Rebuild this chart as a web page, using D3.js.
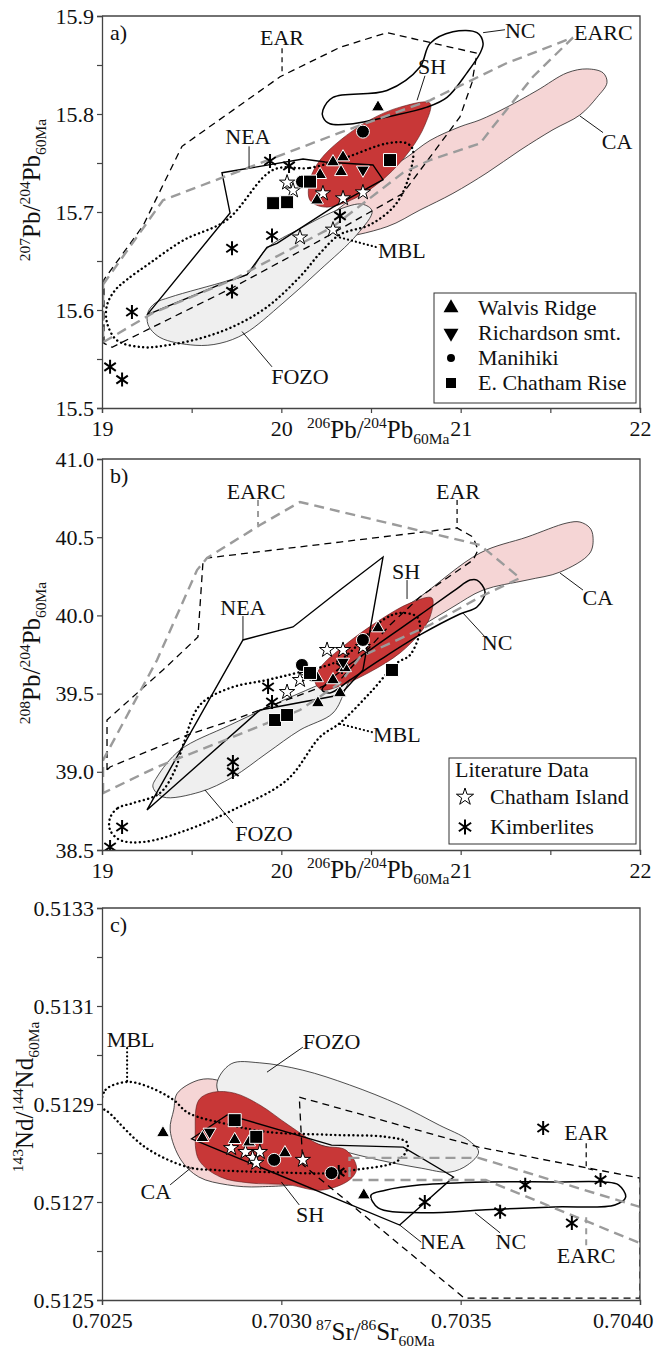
<!DOCTYPE html>
<html>
<head>
<meta charset="utf-8">
<script src="https://cdn.jsdelivr.net/npm/d3@7"></script>
<style>
  body { margin: 0; background: #fff; }
  text { font-family: 'Liberation Serif', 'DejaVu Serif', serif; fill: #111; }
</style>
</head>
<body>
<svg id="chart" width="663" height="1356" font-family="'Liberation Serif', serif"></svg>
<script>
// ---------- Panel a: 207Pb/204Pb vs 206Pb/204Pb ----------
const aWalvis = [[20.539,15.807],[20.288,15.751],[20.344,15.756],[20.333,15.741],[20.216,15.738],[20.199,15.712]];
const aRichardson = [[20.455,15.743]];
const aManihiki = [[20.455,15.782],[20.115,15.731]];
const aChathamRise = [[20.606,15.753],[19.954,15.709],[20.032,15.710],[20.160,15.731]];
const aChathamIsland = [[20.032,15.730],[20.065,15.722],[20.232,15.719],[20.344,15.714],[20.455,15.720],[20.104,15.674],[20.288,15.682]];
const aKimberlites = [[19.937,15.752],[20.043,15.747],[19.725,15.663],[19.948,15.676],[19.167,15.598],[19.725,15.619],[19.045,15.542],[19.112,15.529],[20.327,15.696]];

const aCA = [[20.143,15.684],[20.271,15.697],[20.589,15.743],[20.701,15.756],[20.829,15.773],[20.996,15.787],[21.108,15.794],[21.258,15.807],[21.426,15.824],[21.593,15.842],[21.705,15.846],[21.794,15.842],[21.816,15.832],[21.760,15.817],[21.665,15.799],[21.515,15.784],[21.331,15.763],[21.147,15.740],[20.957,15.719],[20.773,15.702],[20.589,15.685],[20.271,15.673],[20.160,15.677]];
const aFOZO = [[19.257,15.598],[19.296,15.607],[19.379,15.613],[19.703,15.630],[19.814,15.637],[19.920,15.663],[20.104,15.683],[20.327,15.703],[20.450,15.708],[20.506,15.701],[20.422,15.677],[20.216,15.641],[20.009,15.607],[19.797,15.576],[19.658,15.566],[19.519,15.564],[19.323,15.572],[19.257,15.585]];
const aSH = [[20.829,15.811],[20.801,15.789],[20.718,15.763],[20.578,15.735],[20.411,15.714],[20.244,15.705],[20.160,15.712],[20.160,15.733],[20.216,15.753],[20.327,15.773],[20.494,15.794],[20.662,15.807]];
const aNC = [[20.232,15.804],[20.288,15.817],[20.589,15.824],[20.773,15.848],[20.829,15.872],[20.957,15.884],[21.091,15.883],[21.125,15.872],[21.108,15.862],[21.035,15.842],[20.924,15.817],[20.812,15.807],[20.589,15.797],[20.400,15.790],[20.271,15.790],[20.232,15.797]];
const aNEA = [[19.669,15.740],[20.121,15.754],[20.244,15.751],[20.511,15.748],[20.567,15.733],[20.288,15.705],[19.976,15.668],[19.920,15.664],[19.809,15.636],[19.697,15.629],[19.251,15.595],[19.714,15.699]];
const aEAR = [[19.011,15.566],[19.011,15.631],[19.229,15.686],[19.446,15.767],[19.993,15.838],[20.327,15.868],[20.589,15.883],[21.091,15.862],[21.063,15.832],[20.996,15.797],[20.829,15.756],[20.678,15.719],[20.216,15.671],[19.730,15.623],[19.056,15.562]];
const aEARC = [[19.006,15.626],[19.340,15.712],[20.327,15.781],[20.829,15.814],[21.258,15.852],[21.626,15.878],[21.403,15.838],[21.180,15.787],[21.108,15.770],[20.829,15.753],[20.678,15.740],[20.288,15.685],[19.730,15.631],[19.284,15.597],[19.006,15.567]];
const aMBL = [[19.954,15.743],[20.160,15.745],[20.366,15.756],[20.589,15.770],[20.701,15.770],[20.734,15.763],[20.706,15.733],[20.634,15.707],[20.494,15.687],[20.327,15.677],[20.216,15.658],[20.104,15.634],[19.920,15.603],[19.730,15.583],[19.546,15.571],[19.362,15.564],[19.229,15.562],[19.084,15.569],[19.028,15.587],[19.028,15.605],[19.072,15.620],[19.139,15.631],[19.268,15.648],[19.452,15.671],[19.697,15.692]];

const aLabels = [
  ["EAR", 20.004, 15.870, "middle"], ["NC", 21.247, 15.878, "start"], ["EARC", 21.632, 15.876, "start"],
  ["SH", 20.840, 15.841, "middle"], ["CA", 21.872, 15.764, "middle"], ["NEA", 19.814, 15.769, "middle"],
  ["FOZO", 20.104, 15.525, "middle"], ["MBL", 20.539, 15.653, "start"]
];
const aLeaders = [
  ["EAR", [[20.004,15.867],[20.004,15.840]]], ["NC", [[21.125,15.883],[21.247,15.886]]],
  ["SH", [[20.801,15.839],[20.757,15.814]]], ["CA", [[21.665,15.798],[21.794,15.781]]],
  ["NEA", [[19.820,15.767],[19.820,15.745]]], ["FOZO", [[19.781,15.578],[19.948,15.542]]],
  ["MBL", [[20.327,15.674],[20.533,15.664]]]
];

// ---------- Panel b: 208Pb/204Pb vs 206Pb/204Pb ----------
const bWalvis = [[20.204,39.440],[20.199,39.600],[20.288,39.587],[20.327,39.504],[20.539,39.919],[20.355,39.664]];
const bRichardson = [[20.344,39.702]];
const bManihiki = [[20.115,39.683],[20.455,39.843]];
const bChathamRise = [[19.965,39.331],[20.032,39.363],[20.617,39.651],[20.160,39.632]];
const bChathamIsland = [[20.032,39.510],[20.104,39.587],[20.143,39.619],[20.344,39.779],[20.455,39.798],[20.255,39.779]];
const bKimberlites = [[19.926,39.542],[19.948,39.446],[19.730,39.063],[19.730,38.999],[19.112,38.647],[19.045,38.519],[20.338,39.670]];

const bCA = [[20.550,39.939],[20.773,40.118],[21.108,40.399],[21.370,40.501],[21.593,40.591],[21.665,40.597],[21.721,40.559],[21.738,40.501],[21.721,40.399],[21.554,40.277],[21.370,40.226],[21.125,40.162],[20.957,40.054],[20.773,39.926],[20.606,39.811],[20.522,39.843]];
const bFOZO = [[19.284,38.903],[19.307,38.967],[19.435,39.139],[19.714,39.299],[20.104,39.504],[20.327,39.606],[20.383,39.612],[20.355,39.523],[20.288,39.376],[20.104,39.267],[19.920,39.120],[19.730,38.967],[19.546,38.871],[19.340,38.839]];
const bSH = [[20.840,40.111],[20.829,39.990],[20.773,39.887],[20.662,39.760],[20.494,39.638],[20.327,39.549],[20.227,39.523],[20.188,39.574],[20.216,39.664],[20.355,39.811],[20.550,39.971],[20.718,40.079]];
const bNC = [[21.091,40.226],[21.136,40.150],[21.091,40.054],[20.996,40.009],[20.773,39.875],[20.550,39.715],[20.383,39.587],[20.271,39.504],[20.227,39.523],[20.271,39.587],[20.494,39.779],[20.773,40.003],[20.968,40.162],[21.052,40.226]];
const bNEA = [[19.251,38.756],[19.786,39.843],[20.065,39.926],[20.327,40.162],[20.567,40.373],[20.455,39.651],[20.327,39.491],[19.881,39.395]];
const bEAR = [[19.028,39.012],[19.028,39.331],[19.340,39.651],[19.535,39.862],[19.563,40.341],[19.586,40.367],[20.327,40.469],[20.980,40.559],[21.069,40.501],[21.097,40.418],[21.069,40.354],[20.924,40.239],[20.773,40.118],[20.606,39.939],[20.327,39.587],[19.730,39.331],[19.474,39.235],[19.045,39.031]];
const bEARC = [[19.006,38.864],[19.006,39.075],[19.307,39.715],[19.530,40.290],[19.586,40.367],[19.881,40.578],[20.104,40.725],[21.108,40.450],[21.331,40.239],[21.108,40.118],[20.829,39.939],[20.439,39.734],[20.327,39.568],[20.104,39.395],[19.730,39.223],[19.307,39.031]];
const bMBL = [[19.045,38.705],[19.089,38.769],[19.173,38.800],[19.323,38.864],[19.407,39.012],[19.452,39.171],[19.546,39.427],[19.714,39.536],[19.920,39.587],[20.104,39.638],[20.327,39.715],[20.567,39.971],[20.662,40.015],[20.757,39.990],[20.773,39.907],[20.718,39.747],[20.645,39.696],[20.494,39.504],[20.327,39.312],[20.216,39.223],[20.032,38.948],[19.730,38.756],[19.474,38.628],[19.229,38.551],[19.100,38.564],[19.045,38.628]];

const bLabels = [
  ["EARC", 19.859, 40.744, "middle"], ["EAR", 20.985, 40.744, "middle"], ["NEA", 19.786, 40.003, "middle"],
  ["SH", 20.695, 40.233, "middle"], ["CA", 21.765, 40.067, "middle"], ["NC", 21.203, 39.779, "middle"],
  ["FOZO", 19.903, 38.558, "middle"], ["MBL", 20.511, 39.190, "start"]
];
const bLeaders = [
  ["EARC", [[19.870,40.738],[19.870,40.578]]], ["EAR", [[20.980,40.738],[20.980,40.559]]],
  ["NEA", [[19.786,39.996],[19.786,39.843]]], ["SH", [[20.701,40.226],[20.701,40.105]]],
  ["CA", [[21.554,40.271],[21.682,40.162]]], ["NC", [[21.013,40.015],[21.136,39.862]]],
  ["FOZO", [[19.574,38.884],[19.730,38.673]]], ["MBL", [[20.327,39.306],[20.505,39.254]]]
];

// ---------- Panel c: 143Nd/144Nd vs 87Sr/86Sr ----------
const cWalvis = [[0.70267,0.512841],[0.70278,0.512831],[0.70287,0.512827],[0.70291,0.512822],[0.70301,0.512800],[0.70323,0.512714]];
const cRichardson = [[0.70280,0.512843]];
const cManihiki = [[0.70298,0.512786],[0.70314,0.512759]];
const cChathamRise = [[0.70287,0.512867],[0.70293,0.512833]];
const cChathamIsland = [[0.70286,0.512810],[0.70290,0.512802],[0.70292,0.512790],[0.70294,0.512802],[0.70293,0.512780],[0.70306,0.512786]];
const cKimberlites = [[0.70373,0.512851],[0.70340,0.512700],[0.70361,0.512680],[0.70368,0.512735],[0.70381,0.512657],[0.70389,0.512745],[0.70316,0.512761]];

const cCA = [[0.70271,0.512922],[0.70277,0.512949],[0.70282,0.512949],[0.70287,0.512929],[0.70291,0.512888],[0.70299,0.512806],[0.70306,0.512745],[0.70294,0.512731],[0.70285,0.512735],[0.70277,0.512751],[0.70272,0.512786],[0.70269,0.512847],[0.70270,0.512888]];
const cFOZO = [[0.70282,0.512939],[0.70286,0.512982],[0.70294,0.512984],[0.70306,0.512969],[0.70319,0.512939],[0.70333,0.512898],[0.70344,0.512857],[0.70352,0.512827],[0.70355,0.512802],[0.70352,0.512776],[0.70347,0.512761],[0.70339,0.512769],[0.70327,0.512786],[0.70316,0.512806],[0.70306,0.512827],[0.70294,0.512857],[0.70286,0.512888]];
const cSH = [[0.70277,0.512908],[0.70281,0.512924],[0.70287,0.512922],[0.70294,0.512898],[0.70302,0.512857],[0.70311,0.512816],[0.70318,0.512806],[0.70321,0.512769],[0.70319,0.512745],[0.70311,0.512724],[0.70302,0.512735],[0.70291,0.512739],[0.70283,0.512751],[0.70277,0.512786],[0.70276,0.512847]];
const cNC = [[0.70325,0.512714],[0.70329,0.512724],[0.70339,0.512735],[0.70357,0.512741],[0.70376,0.512741],[0.70390,0.512741],[0.70394,0.512735],[0.70396,0.512710],[0.70393,0.512694],[0.70376,0.512690],[0.70357,0.512684],[0.70339,0.512678],[0.70327,0.512688]];
const cNEA = [[0.70275,0.512829],[0.70285,0.512878],[0.70314,0.512816],[0.70334,0.512812],[0.70348,0.512751],[0.70333,0.512653]];
const cEAR = [[0.70305,0.512914],[0.70355,0.512812],[0.70400,0.512749],[0.70400,0.512504],[0.70351,0.512504],[0.70306,0.512776]];
const cEARC = [[0.70319,0.512790],[0.70355,0.512790],[0.70400,0.512690],[0.70400,0.512616],[0.70357,0.512745],[0.70319,0.512745]];
const cMBL = [[0.70250,0.512894],[0.70251,0.512929],[0.70257,0.512945],[0.70263,0.512935],[0.70270,0.512908],[0.70274,0.512882],[0.70286,0.512857],[0.70296,0.512843],[0.70314,0.512837],[0.70329,0.512833],[0.70335,0.512822],[0.70335,0.512806],[0.70332,0.512782],[0.70320,0.512765],[0.70314,0.512759],[0.70296,0.512761],[0.70282,0.512765],[0.70274,0.512771],[0.70262,0.512812],[0.70252,0.512882]];

const cLabels = [
  ["MBL", 0.70258, 0.513016, "middle"], ["FOZO", 0.70306, 0.513012, "start"], ["CA", 0.70265, 0.512706, "middle"],
  ["SH", 0.70308, 0.512659, "middle"], ["NEA", 0.70345, 0.512604, "middle"], ["NC", 0.70364, 0.512604, "middle"],
  ["EAR", 0.70385, 0.512827, "middle"], ["EARC", 0.70385, 0.512576, "middle"]
];
const cLeaders = [
  ["MBL", [[0.70257,0.513014],[0.70257,0.512945]]], ["FOZO", [[0.70296,0.512965],[0.70306,0.513016]]],
  ["CA", [[0.70269,0.512735],[0.70275,0.512771]]], ["SH", [[0.70300,0.512741],[0.70305,0.512694]]],
  ["NEA", [[0.70333,0.512653],[0.70339,0.512618]]], ["NC", [[0.70354,0.512678],[0.70361,0.512637]]],
  ["EAR", [[0.70385,0.512820],[0.70385,0.512769],[0.70387,0.512765]]], ["EARC", [[0.70385,0.512669],[0.70385,0.512608]]]
];

// ---------- styles ----------
const FONT = "'Liberation Serif', 'DejaVu Serif', serif";
const fieldStyle = {
  CA:   { fill: "#f5d5d5", stroke: "#222", width: 0.8, dash: null, smooth: true },
  FOZO: { fill: "#efefef", stroke: "#222", width: 0.8, dash: null, smooth: true },
  SH:   { fill: "#c83737", stroke: "#5a1a1a", width: 0.6, dash: null, smooth: true },
  NC:   { fill: "none", stroke: "#000", width: 1.5, dash: null, smooth: true },
  NEA:  { fill: "none", stroke: "#000", width: 1.4, dash: null, smooth: false },
  MBL:  { fill: "none", stroke: "#000", width: 2.4, dash: "0.1,4.4", smooth: true },
  EAR:  { fill: "none", stroke: "#000", width: 1.3, dash: "7,5", smooth: false },
  EARC: { fill: "none", stroke: "#9b9b9b", width: 2.4, dash: "10,6", smooth: false }
};
const leaderStyle = {
  EAR: { stroke: "#000", width: 1.2, dash: "5,4" },
  EARC: { stroke: "#9b9b9b", width: 2, dash: "6,5" },
  MBL: { stroke: "#000", width: 2.2, dash: "0.1,4" },
  other: { stroke: "#000", width: 0.9, dash: null }
};

const svg = d3.select("#chart");
const X0 = 102, X1 = 640;

function symbolPath(type, s) {
  if (type === "ast") {
    const r = s;
    let d = "";
    [90, 35, 145].forEach(a => {
      const t = a * Math.PI / 180, dx = r * Math.cos(t), dy = r * Math.sin(t);
      d += `M${-dx},${-dy}L${dx},${dy}`;
    });
    return d;
  }
  const map = { tri: d3.symbolTriangle, down: d3.symbolTriangle, circle: d3.symbolCircle, square: d3.symbolSquare, star: d3.symbolStar };
  return d3.symbol(map[type], s)();
}

function drawMarker(g, type, cx, cy, s) {
  const p = g.append("path").attr("d", symbolPath(type, s))
    .attr("transform", `translate(${cx},${cy})` + (type === "down" ? " rotate(180)" : ""));
  if (type === "star") p.attr("fill", "#fff").attr("stroke", "#000").attr("stroke-width", 1);
  else if (type === "ast") p.attr("fill", "none").attr("stroke", "#000").attr("stroke-width", 2);
  else p.attr("fill", "#000").attr("stroke", "#fff").attr("stroke-width", 1);
  return p;
}

function txt(g) {
  return g.append("text").style("font-family", FONT).attr("fill", "#111");
}

function addTitle(g, parts, x, y, rotate, anchor) {
  const t = txt(g).attr("text-anchor", anchor)
    .attr("transform", `translate(${x},${y})` + (rotate ? " rotate(-90)" : ""))
    .style("font-size", "25px");
  let cur = 0;
  parts.forEach(([s, k]) => {
    const target = k === "sup" ? -10 : k === "sub" ? 6 : 0;
    t.append("tspan").attr("dy", target - cur).style("font-size", k ? "15.5px" : "25px").text(s);
    cur = target;
  });
}

function drawPanel(p) {
  const x = d3.scaleLinear().domain(p.xDomain).range([X0, X1]);
  const y = d3.scaleLinear().domain(p.yDomain).range([p.bottom, p.top]);
  const g = svg.append("g");

  g.append("clipPath").attr("id", "clip-" + p.id).append("rect")
    .attr("x", X0).attr("y", p.top).attr("width", X1 - X0).attr("height", p.bottom - p.top);
  const plot = g.append("g").attr("clip-path", `url(#clip-${p.id})`);

  const smooth = d3.line().x(d => x(d[0])).y(d => y(d[1])).curve(d3.curveCatmullRomClosed.alpha(0.5));
  const poly = d3.line().x(d => x(d[0])).y(d => y(d[1])).curve(d3.curveLinearClosed);
  const open = d3.line().x(d => x(d[0])).y(d => y(d[1]));

  p.fields.forEach(([name, pts]) => {
    const st = fieldStyle[name];
    plot.append("path").attr("d", (st.smooth ? smooth : poly)(pts))
      .attr("fill", st.fill).attr("stroke", st.stroke).attr("stroke-width", st.width)
      .attr("stroke-dasharray", st.dash).attr("stroke-linecap", name === "MBL" ? "round" : "butt");
  });

  p.leaders.forEach(([name, pts]) => {
    const st = leaderStyle[name] || leaderStyle.other;
    plot.append("path").attr("d", open(pts)).attr("fill", "none")
      .attr("stroke", st.stroke).attr("stroke-width", st.width).attr("stroke-dasharray", st.dash)
      .attr("stroke-linecap", name === "MBL" ? "round" : "butt");
  });

  p.labels.forEach(([t, lx, ly, anchor]) => {
    txt(g).attr("x", x(lx)).attr("y", y(ly)).attr("text-anchor", anchor)
      .style("font-size", "22px").text(t);
  });

  const pts = plot.append("g");
  p.series.forEach(([type, data, size]) => {
    data.forEach(d => drawMarker(pts, type, x(d[0]), y(d[1]), size));
  });

  // axes
  const xAxis = d3.axisBottom(x).tickValues(p.xTicks).tickSize(5).tickPadding(7)
    .tickFormat(v => p.xLabelled(v) ? p.xFmt(v) : "");
  const yAxis = d3.axisLeft(y).tickValues(p.yTicks).tickSize(5).tickPadding(3)
    .tickFormat(v => p.yLabelled(v) ? p.yFmt(v) : "");
  const gx = g.append("g").attr("transform", `translate(0,${p.bottom})`).call(xAxis);
  const gy = g.append("g").attr("transform", `translate(${X0},0)`).call(yAxis);
  [gx, gy].forEach(a => {
    a.attr("font-family", FONT);
    a.selectAll("text").style("font-size", "22px").style("font-family", FONT).attr("fill", "#111");
    a.selectAll("line").attr("stroke", "#444").attr("stroke-width", 1.2);
    a.select(".domain").attr("stroke", "#444").attr("stroke-width", 1.3);
  });
  // last x label kept inside the picture, as in the reference
  if (p.shiftLast) {
    gx.selectAll(".tick text").filter((d, i, n) => i === n.length - 1)
      .attr("text-anchor", "end").attr("x", 13);
  }
  g.append("path").attr("d", `M${X0},${p.top}H${X1}V${p.bottom}`).attr("fill", "none")
    .attr("stroke", "#444").attr("stroke-width", 1.3);

  txt(g).attr("x", 110).attr("y", p.top + 24).style("font-size", "22px").text(p.id + ")");

  addTitle(g, p.xTitle, p.xTitleX, p.xTitleY, false, "start");
  addTitle(g, p.yTitle, p.yTitleX, p.yTitleY, true, "middle");

  return { x, y };
}

const halfTicks = d3.range(19, 22.01, 0.5);
const isInt = v => Math.abs(v - Math.round(v)) < 1e-6;

drawPanel({
  id: "a", top: 16, bottom: 408, xDomain: [19, 22], yDomain: [15.5, 15.9],
  xTicks: halfTicks, xLabelled: isInt, xFmt: d3.format("d"),
  yTicks: d3.range(15.5, 15.901, 0.05), yLabelled: v => Math.abs(v * 10 - Math.round(v * 10)) < 1e-6, yFmt: d3.format(".1f"),
  fields: [["CA", aCA], ["FOZO", aFOZO], ["SH", aSH], ["NEA", aNEA], ["NC", aNC], ["MBL", aMBL], ["EAR", aEAR], ["EARC", aEARC]],
  leaders: aLeaders, labels: aLabels,
  series: [["ast", aKimberlites, 7], ["star", aChathamIsland, 72], ["tri", aWalvis, 73], ["down", aRichardson, 73], ["circle", aManihiki, 133], ["square", aChathamRise, 169]],
  xTitle: [["206", "sup"], ["Pb/", ""], ["204", "sup"], ["Pb", ""], ["60Ma", "sub"]], xTitleX: 307, xTitleY: 438,
  yTitle: [["207", "sup"], ["Pb/", ""], ["204", "sup"], ["Pb", ""], ["60Ma", "sub"]], yTitleX: 40, yTitleY: 190
});

drawPanel({
  id: "b", top: 459, bottom: 850, xDomain: [19, 22], yDomain: [38.5, 41.0],
  xTicks: halfTicks, xLabelled: isInt, xFmt: d3.format("d"),
  yTicks: d3.range(38.5, 41.01, 0.5), yLabelled: () => true, yFmt: d3.format(".1f"),
  fields: [["CA", bCA], ["FOZO", bFOZO], ["SH", bSH], ["NEA", bNEA], ["NC", bNC], ["MBL", bMBL], ["EAR", bEAR], ["EARC", bEARC]],
  leaders: bLeaders, labels: bLabels,
  series: [["ast", bKimberlites, 7], ["star", bChathamIsland, 72], ["tri", bWalvis, 73], ["down", bRichardson, 73], ["circle", bManihiki, 133], ["square", bChathamRise, 169]],
  xTitle: [["206", "sup"], ["Pb/", ""], ["204", "sup"], ["Pb", ""], ["60Ma", "sub"]], xTitleX: 307, xTitleY: 878,
  yTitle: [["208", "sup"], ["Pb/", ""], ["204", "sup"], ["Pb", ""], ["60Ma", "sub"]], yTitleX: 40, yTitleY: 653
});

drawPanel({
  id: "c", top: 908, bottom: 1300, xDomain: [0.7025, 0.7040], yDomain: [0.5125, 0.5133],
  xTicks: [0.7025, 0.7030, 0.7035, 0.7040], xLabelled: () => true, xFmt: d3.format(".4f"), shiftLast: true,
  yTicks: d3.range(0.5125, 0.51331, 0.0001), yLabelled: v => Math.round(v * 10000) % 2 === 1, yFmt: d3.format(".4f"),
  fields: [["CA", cCA], ["FOZO", cFOZO], ["SH", cSH], ["NEA", cNEA], ["NC", cNC], ["MBL", cMBL], ["EAR", cEAR], ["EARC", cEARC]],
  leaders: cLeaders, labels: cLabels,
  series: [["ast", cKimberlites, 7], ["star", cChathamIsland, 72], ["tri", cWalvis, 73], ["down", cRichardson, 73], ["circle", cManihiki, 133], ["square", cChathamRise, 169]],
  xTitle: [["87", "sup"], ["Sr/", ""], ["86", "sup"], ["Sr", ""], ["60Ma", "sub"]], xTitleX: 316, xTitleY: 1340,
  yTitle: [["143", "sup"], ["Nd/", ""], ["144", "sup"], ["Nd", ""], ["60Ma", "sub"]], yTitleX: 33, yTitleY: 1097
});

// ---------- legends ----------
const legendA = [["tri", "Walvis Ridge", 97], ["down", "Richardson smt.", 97], ["circle", "Manihiki", 50], ["square", "E. Chatham Rise", 100]];
const la = svg.append("g");
la.append("rect").attr("x", 434).attr("y", 293).attr("width", 202).attr("height", 110)
  .attr("fill", "#fff").attr("stroke", "#333").attr("stroke-width", 1);
legendA.forEach(([type, label, s], i) => {
  const cy = 308 + i * 25;
  drawMarker(la, type, 451, cy, s).attr("stroke", "none");
  txt(la).attr("x", 478).attr("y", cy + 7).style("font-size", "22px").text(label);
});

const legendB = [["star", "Chatham Island", 91], ["ast", "Kimberlites", 7.5]];
const lb = svg.append("g");
lb.append("rect").attr("x", 449).attr("y", 758).attr("width", 187).attr("height", 86)
  .attr("fill", "#fff").attr("stroke", "#333").attr("stroke-width", 1);
txt(lb).attr("x", 455).attr("y", 777).style("font-size", "22px").text("Literature Data");
legendB.forEach(([type, label, s], i) => {
  const cy = 797 + i * 30;
  drawMarker(lb, type, 465, cy, s);
  txt(lb).attr("x", 490).attr("y", cy + 7).style("font-size", "22px").text(label);
});
</script>
</body>
</html>
